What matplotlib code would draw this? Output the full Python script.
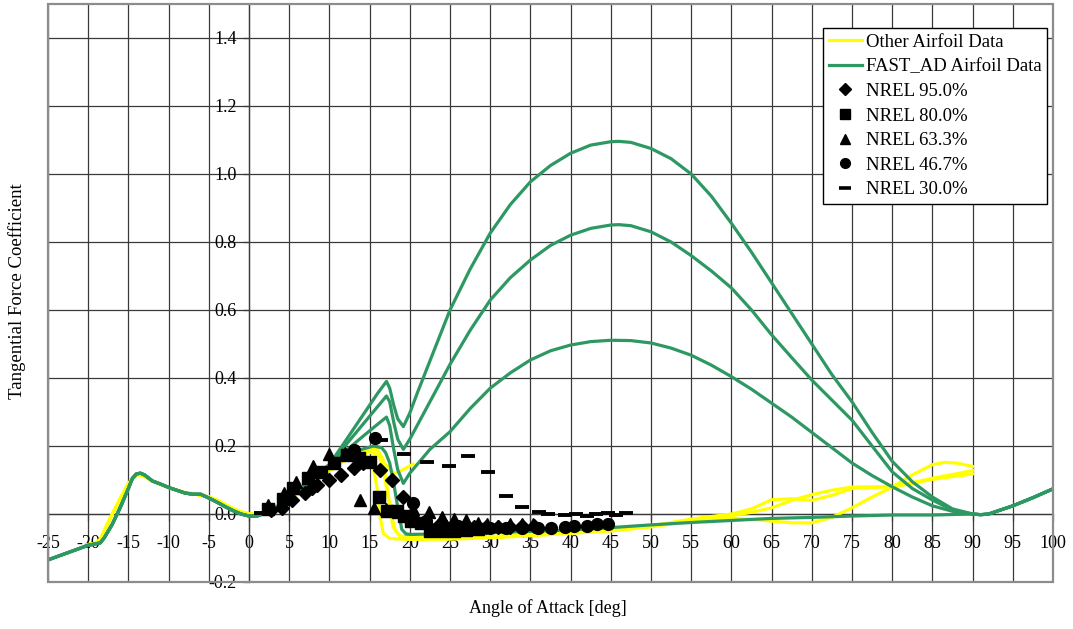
import matplotlib
matplotlib.use("Agg")
import matplotlib.pyplot as plt
from matplotlib.lines import Line2D
from matplotlib.patches import Rectangle

plt.rcParams['font.family'] = ['Liberation Serif', 'DejaVu Serif']
plt.rcParams['axes.unicode_minus'] = False

# ---------------- FAST_AD airfoil tables (tangential force coefficient) ----------------
fast_alpha_low = [-25, -20, -18.5, -18, -17, -16, -15, -14.5, -14, -13.5, -13, -12, -11, -10,
                  -9, -8, -7, -6, -5, -4, -3, -2, -1, 0, 1, 2, 3, 4, 5, 6, 7, 8, 9, 10]
fast_ct_low = [-0.135, -0.092, -0.085, -0.07, -0.03, 0.02, 0.075, 0.105, 0.118, 0.12, 0.115,
               0.097, 0.088, 0.078, 0.07, 0.062, 0.058, 0.058, 0.047, 0.035, 0.022, 0.01, 0.0,
               -0.006, -0.006, 0.002, 0.014, 0.03, 0.048, 0.066, 0.085, 0.105, 0.125, 0.145]

fast_alpha_tail = [90, 91, 92, 93, 95, 97.5, 100]
fast_ct_tail = [0.0, -0.002, 0.0, 0.008, 0.024, 0.048, 0.074]

fast1_alpha = [10, 12, 14, 16, 17.1, 17.5, 18, 18.5, 19.2, 20, 21, 22, 23, 25, 27.5, 30, 32.5, 35,
               37.5, 40, 42.5, 45, 46, 47.5, 50, 52.5, 55, 57.5, 60, 62.5, 65, 67.5, 70, 72.5, 75,
               77.5, 80, 82.5, 85, 87.5, 90]
fast1_ct = [0.145, 0.215, 0.285, 0.355, 0.39, 0.37, 0.32, 0.28, 0.257, 0.297, 0.36, 0.42, 0.48,
            0.6, 0.72, 0.826, 0.91, 0.977, 1.025, 1.061, 1.085, 1.095, 1.096, 1.093, 1.075, 1.045,
            1.0, 0.935, 0.855, 0.77, 0.68, 0.59, 0.5, 0.41, 0.33, 0.24, 0.155, 0.095, 0.05, 0.015,
            0.0]

fast2_alpha = [10, 12, 14, 16, 17.1, 17.5, 18, 18.5, 19.2, 20, 22.5, 25, 27.5, 30, 32.5, 35, 37.5,
               40, 42.5, 45, 46, 47.5, 50, 52.5, 55, 57.5, 60, 62.5, 65, 67.5, 70, 72.5, 75, 77.5,
               80, 82.5, 85, 87.5, 90]
fast2_ct = [0.145, 0.202, 0.259, 0.316, 0.347, 0.33, 0.27, 0.22, 0.19, 0.22, 0.33, 0.44, 0.54,
            0.629, 0.695, 0.747, 0.79, 0.82, 0.84, 0.85, 0.851, 0.848, 0.83, 0.8, 0.76, 0.715,
            0.665, 0.6, 0.527, 0.46, 0.394, 0.335, 0.276, 0.2, 0.124, 0.075, 0.041, 0.012, 0.0]

fast3_alpha = [10, 12, 14, 16, 17.1, 17.5, 18, 18.5, 19.2, 20, 22.5, 25, 27.5, 30, 32.5, 35, 37.5,
               40, 42.5, 45, 47.5, 50, 52.5, 55, 57.5, 60, 62.5, 65, 67.5, 70, 72.5, 75, 77.5, 80,
               82.5, 85, 87.5, 90]
fast3_ct = [0.145, 0.185, 0.225, 0.264, 0.285, 0.26, 0.19, 0.13, 0.09, 0.12, 0.19, 0.242, 0.31,
            0.37, 0.415, 0.453, 0.48, 0.497, 0.507, 0.511, 0.51, 0.503, 0.488, 0.467, 0.438,
            0.404, 0.367, 0.326, 0.285, 0.24, 0.195, 0.15, 0.113, 0.08, 0.05, 0.024, 0.008, 0.0]

fast4_alpha = [10, 12, 14, 15.5, 16.5, 17, 17.5, 18, 18.5, 19, 19.5, 20, 25, 30, 35, 40, 45, 50,
               55, 60, 65, 70, 75, 80, 85, 90]
fast4_ct = [0.145, 0.17, 0.19, 0.2, 0.195, 0.18, 0.15, 0.09, 0.02, -0.045, -0.058, -0.06, -0.058,
            -0.055, -0.051, -0.047, -0.04, -0.032, -0.025, -0.019, -0.013, -0.01, -0.006, -0.003,
            -0.003, 0.0]

# ---------------- other airfoil tables ----------------
other_alpha_low = [-20, -19, -18.5, -18, -17, -16, -15, -14, -13.5, -13, -12, -10, -8, -7, -6,
                   -5, -4, -3, -2, -1, 0, 1, 2, 3, 4, 5, 6, 7, 8, 9, 10, 11, 12, 13, 14]
other_ct_low = [-0.09, -0.085, -0.075, -0.05, 0.0, 0.045, 0.09, 0.113, 0.115, 0.11, 0.097, 0.078,
                0.063, 0.06, 0.055, 0.05, 0.04, 0.028, 0.016, 0.006, 0.0, 0.0, 0.005, 0.015,
                0.027, 0.042, 0.058, 0.075, 0.092, 0.11, 0.128, 0.145, 0.16, 0.172, 0.182]

other_a_alpha = [14, 15, 15.8, 16.7, 17.3, 17.9, 18.8, 20, 25, 30, 35, 40, 45, 50, 55, 60, 62.5, 65,
                 67.5, 70, 72.5, 75, 77.5, 80, 82.5, 85, 87.5, 90]
other_a_ct = [0.182, 0.195, 0.198, 0.159, 0.06, -0.037, -0.066, -0.068, -0.07, -0.066, -0.06,
              -0.054, -0.046, -0.035, -0.015, 0.0, 0.015, 0.042, 0.045, 0.04, 0.055, 0.075, 0.078,
              0.08, 0.092, 0.105, 0.116, 0.128]

other_b_alpha = [14, 14.5, 15.3, 15.9, 16.3, 16.7, 17.5, 20, 25, 30, 35, 40, 45, 50, 55, 60, 62.5,
                 65, 67.5, 70, 72.5, 75, 77.5, 80, 82.5, 85, 87.5, 90]
other_b_ct = [0.17, 0.173, 0.159, 0.08, -0.007, -0.057, -0.072, -0.075, -0.074, -0.07, -0.064,
              -0.057, -0.05, -0.038, -0.02, -0.005, 0.005, 0.018, 0.04, 0.057, 0.07, 0.079, 0.08,
              0.08, 0.09, 0.102, 0.11, 0.118]

other_c_alpha = [14, 15, 16, 17, 18, 18.5, 19.5, 20.4]
other_c_ct = [0.175, 0.182, 0.175, 0.145, 0.12, 0.122, 0.135, 0.147]

other_d_alpha = [14, 15, 16, 16.8, 17.5, 18.2, 19, 20, 25, 30, 35, 40, 45, 50, 55, 60, 62.5, 65,
                 67.5, 70, 72.5, 75, 77.5, 80, 82.5, 85, 86.5, 88, 90]
other_d_ct = [0.18, 0.19, 0.19, 0.12, 0.02, -0.05, -0.068, -0.07, -0.072, -0.068, -0.062, -0.055,
              -0.048, -0.036, -0.018, -0.012, -0.016, -0.021, -0.026, -0.026, -0.01, 0.018, 0.05,
              0.079, 0.115, 0.145, 0.152, 0.15, 0.14]

# ---------------- NREL measurements ----------------
nrel95_alpha = [2.7, 4.1, 5.3, 7.0, 7.8, 8.5, 10.0, 11.4, 13.0, 14.2, 16.3, 17.8, 19.1, 20.5, 22.0,
                23.5, 25.0, 26.5, 28.0, 29.5, 31.0, 32.5, 34.0, 35.5]
nrel95_ct = [0.012, 0.018, 0.04, 0.063, 0.077, 0.084, 0.1, 0.114, 0.135, 0.149, 0.128, 0.1, 0.049,
             -0.015, -0.03, -0.035, -0.04, -0.04, -0.038, -0.038, -0.037, -0.037, -0.036, -0.035]

nrel80_alpha = [2.4, 4.2, 5.5, 7.3, 8.9, 10.6, 12.2, 13.7, 15.1, 16.2, 17.2, 18.4, 19.3, 20.2, 21.4,
                22.5, 24.0, 25.5, 27.0, 28.5]
nrel80_ct = [0.015, 0.045, 0.076, 0.105, 0.124, 0.149, 0.173, 0.166, 0.154, 0.051, 0.01, 0.01,
             -0.005, -0.02, -0.027, -0.05, -0.05, -0.05, -0.048, -0.045]

nrel63_alpha = [2.4, 4.3, 5.9, 7.9, 10.0, 11.9, 13.8, 15.5, 17.1, 18.5, 20.4, 22.4, 24.0, 25.5,
                27.0, 28.5, 29.6, 31.0, 32.5, 34.0, 35.3]
nrel63_ct = [0.026, 0.061, 0.095, 0.141, 0.176, 0.178, 0.041, 0.017, 0.014, 0.005, 0.014, 0.007,
             -0.01, -0.015, -0.018, -0.025, -0.03, -0.035, -0.028, -0.03, -0.028]

nrel47_alpha = [13.0, 15.7, 20.4, 22.0, 24.0, 26.0, 28.0, 30.0, 32.0, 34.0, 36.0, 37.6, 39.3, 40.4,
                42.0, 43.3, 44.6]
nrel47_ct = [0.188, 0.225, 0.032, -0.02, -0.03, -0.035, -0.04, -0.042, -0.04, -0.042, -0.042,
             -0.042, -0.038, -0.035, -0.035, -0.03, -0.028]

nrel30_alpha = [1.5, 16.4, 19.3, 22.1, 24.9, 27.3, 29.7, 32.0, 33.9, 36.1, 37.2, 39.3, 40.7, 42.0,
                43.2, 44.6, 45.7, 46.9]
nrel30_ct = [0.003, 0.218, 0.176, 0.152, 0.141, 0.17, 0.125, 0.053, 0.021, 0.007, 0.0, -0.003,
             -0.001, -0.005, -0.001, 0.002, -0.003, 0.002]

x_ticks = list(range(-25, 101, 5))
y_ticks = [-0.2, 0.0, 0.2, 0.4, 0.6, 0.8, 1.0, 1.2, 1.4]

YELLOW = '#FFFF00'
GREEN = '#2E9863'

fig = plt.figure(figsize=(10.73, 6.29), dpi=100)
ax = fig.add_axes([48 / 1073, 1 - 582 / 629, 1005 / 1073, 578 / 629])
ax.set_xlim(-25, 100)
ax.set_ylim(-0.2, 1.5)

# other airfoil data (drawn first, beneath the FAST_AD curves)
lw = 2.3
for a_hi, c_hi in [(other_a_alpha, other_a_ct), (other_b_alpha, other_b_ct),
                   (other_c_alpha, other_c_ct), (other_d_alpha, other_d_ct)]:
    ax.plot(other_alpha_low + a_hi[1:], other_ct_low + c_hi[1:], color=YELLOW, lw=lw,
            solid_joinstyle='round', zorder=3)

for a_hi, c_hi in [(fast4_alpha, fast4_ct), (fast3_alpha, fast3_ct),
                   (fast2_alpha, fast2_ct), (fast1_alpha, fast1_ct)]:
    ax.plot(fast_alpha_low + a_hi[1:] + fast_alpha_tail[1:],
            fast_ct_low + c_hi[1:] + fast_ct_tail[1:], color=GREEN, lw=lw,
            solid_joinstyle='round', zorder=4)

mk = dict(color='black', linestyle='none', zorder=5)
ax.plot(nrel95_alpha, nrel95_ct, marker='D', ms=7, **mk)
ax.plot(nrel80_alpha, nrel80_ct, marker='s', ms=8, **mk)
ax.plot(nrel63_alpha, nrel63_ct, marker='^', ms=9, **mk)
ax.plot(nrel47_alpha, nrel47_ct, marker='o', ms=8.5, **mk)
ax.plot(nrel30_alpha, nrel30_ct, marker='_', ms=10, mew=2.8, **mk)

# axes through the origin, grid and outer frame
ax.set_xticks(x_ticks)
ax.set_yticks(y_ticks)
ax.set_xticklabels([str(v) for v in x_ticks])
ax.set_yticklabels([f"{v:.1f}" for v in y_ticks])
ax.grid(True, color='#3a3a3a', lw=0.9, zorder=1)
ax.set_axisbelow(True)
for side in ['top', 'right']:
    ax.spines[side].set_visible(False)
ax.spines['left'].set_position(('data', 0))
ax.spines['bottom'].set_position(('data', 0))
for side in ['left', 'bottom']:
    ax.spines[side].set_color('#3a3a3a')
    ax.spines[side].set_linewidth(0.9)
ax.add_patch(Rectangle((0, 0), 1, 1, transform=ax.transAxes, fill=False,
                       edgecolor='#8c8c8c', lw=1.6, clip_on=False, zorder=6))
ax.tick_params(axis='x', direction='out', length=5, width=0.9, pad=10, labelsize=13,
               color='#3a3a3a')
ax.tick_params(axis='y', direction='out', length=4, width=0.9, pad=5, labelsize=13,
               color='#3a3a3a')

fig.text(548 / 1073, 1 - 608 / 629, 'Angle of Attack [deg]', ha='center', va='center',
         fontsize=13)
fig.text(17 / 1073, 1 - 291 / 629, 'Tangential Force Coefficient', ha='center', va='center',
         rotation=90, fontsize=13.5)

handles = [
    Line2D([], [], color=YELLOW, lw=lw),
    Line2D([], [], color=GREEN, lw=lw),
    Line2D([], [], color='black', marker='D', ls='none', ms=6),
    Line2D([], [], color='black', marker='s', ls='none', ms=6.5),
    Line2D([], [], color='black', marker='^', ls='none', ms=7),
    Line2D([], [], color='black', marker='o', ls='none', ms=7),
    Line2D([], [], color='black', marker='_', ls='none', ms=8, mew=2.6),
]
labels = ['Other Airfoil Data', 'FAST_AD Airfoil Data', 'NREL 95.0%', 'NREL 80.0%',
          'NREL 63.3%', 'NREL 46.7%', 'NREL 30.0%']
leg = ax.legend(handles, labels, loc='upper right', bbox_to_anchor=(1047 / 1073, 1 - 28 / 629),
                bbox_transform=fig.transFigure, borderaxespad=0, fancybox=False,
                framealpha=1, edgecolor='black', fontsize=13.5, handlelength=1.75,
                handletextpad=0.2, borderpad=0.3, labelspacing=0.4)
leg.get_frame().set_linewidth(1.0)
leg.set_zorder(10)

fig.savefig('out.png', dpi=100)
